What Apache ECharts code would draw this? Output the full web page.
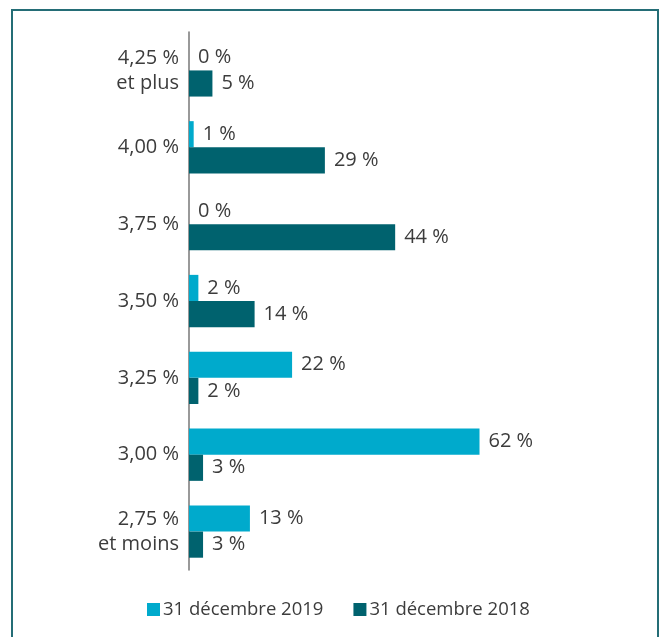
<!DOCTYPE html>
<html><head><meta charset="utf-8">
<script src="https://cdn.jsdelivr.net/npm/echarts@6/dist/echarts.min.js"></script>
<style>html,body{margin:0;padding:0;background:#fff}#c{width:659px;height:637px}</style>
</head><body><div id="c"></div>
<script>
const categories = ['2,75 %\net moins', '3,00 %', '3,25 %', '3,50 %', '3,75 %', '4,00 %', '4,25 %\net plus'];
const values2019 = [13, 62, 22, 2, 0, 1, 0];
const values2018 = [3, 3, 2, 14, 44, 29, 5];
const seriesNames = ['31 décembre 2019', '31 décembre 2018'];

const chart = echarts.init(document.getElementById('c'));
const font = '"Open Sans", sans-serif';
const txt = '#3c3c3c';
const lbl = {show: true, position: 'right', distance: 9, color: txt, fontSize: 20, fontFamily: font, formatter: p => p.value + ' %'};
chart.setOption({
  animation: false,
  graphic: [{type: 'rect', shape: {x: 12, y: 10, width: 646, height: 640}, style: {fill: 'none', stroke: '#246d76', lineWidth: 2}}],
  legend: {bottom: 13, left: 142, itemWidth: 13, itemHeight: 13, itemGap: 30, itemStyle: {borderWidth: 0}, icon: 'rect',
    textStyle: {fontSize: 18.5, color: txt, fontFamily: font, padding: [0, 0, 0, -2]}, data: seriesNames},
  grid: {left: 189, right: 142, top: 32, bottom: 67},
  xAxis: {type: 'value', min: 0, max: 70, show: false},
  yAxis: {type: 'category', data: categories,
    axisLine: {lineStyle: {color: '#777', width: 1.5}}, axisTick: {show: false},
    axisLabel: {color: txt, fontSize: 20, fontFamily: font, margin: 10, lineHeight: 25}},
  series: [
    {name: seriesNames[0], type: 'bar', data: values2019, itemStyle: {color: '#00aacc'}, barGap: '0%', barCategoryGap: '32%', label: lbl},
    {name: seriesNames[1], type: 'bar', data: values2018, itemStyle: {color: '#00626e'}, label: lbl}
  ]
});
</script></body></html>
